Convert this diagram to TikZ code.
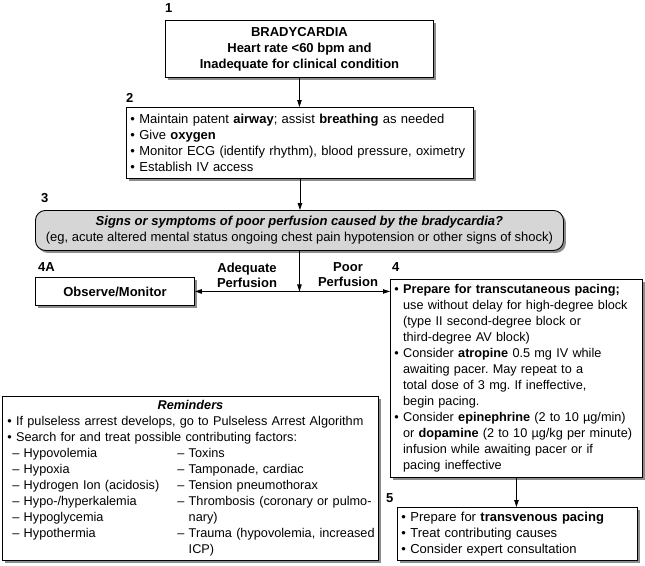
\documentclass[tikz,border=0pt]{standalone}
\usepackage{fontspec}
\setmainfont{Liberation Sans}
\usetikzlibrary{arrows.meta,shadows}
\frenchspacing
\newcommand{\hang}{\hphantom{• }}
\newcommand{\fs}{\fontsize{13}{16}\selectfont}
\newcommand{\fsm}{\fontsize{12.7}{16}\selectfont}
\newcommand{\twocol}[2]{\mbox{\hspace*{5pt}\makebox[165pt][l]{#1}#2}}
\tikzset{
  box/.style={draw,line width=0.9pt,fill=white,anchor=north west,inner sep=0pt,
    drop shadow={shadow xshift=2.5pt,shadow yshift=-2.5pt,fill=black!45,opacity=1},
    font=\fs},
  num/.style={anchor=west,inner sep=0pt,font=\bfseries\fs},
  tag/.style={align=center,inner sep=0pt,font=\bfseries\fontsize{13}{15}\selectfont},
  link/.style={line width=0.9pt,-{Triangle[length=7pt,width=4.5pt]}},
}
\begin{document}
\begin{tikzpicture}[x=1pt,y=-1pt]
\useasboundingbox (0,0) rectangle (645,565);
% step 1
\node[num] (n1) at (165,8) {1};
\node[box,minimum width=268pt,minimum height=57pt,align=center,font=\bfseries\fs] (brady) at (165,20)
  {BRADYCARDIA\\Heart rate <60 bpm and\\Inadequate for clinical condition};
% step 2
\node[num] (n2) at (126,98) {2};
\node[box,minimum height=71pt,text width=339pt,inner xsep=4pt,align=left] (support) at (126,107)
  {• Maintain patent \textbf{airway}; assist \textbf{breathing} as needed\\
   • Give \textbf{oxygen}\\
   • Monitor ECG (identify rhythm), blood pressure, oximetry\\
   • Establish IV access};
% step 3
\node[num] (n3) at (41,198) {3};
\node[box,rounded corners=10pt,fill=black!16,minimum width=528pt,minimum height=40pt,align=center] (perf) at (35,210)
  {\textbf{\textit{Signs or symptoms of poor perfusion caused by the bradycardia?}}\\
   (eg, acute altered mental status ongoing chest pain hypotension or other signs of shock)};
% step 4A
\node[num] (n4a) at (38,267) {4A};
\node[box,minimum width=159pt,minimum height=28pt,font=\bfseries\fs] (observe) at (35,277) {Observe/Monitor};
\node[tag] (adequate) at (247,275) {Adequate\\Perfusion};
\node[tag] (poor) at (348,275) {Poor\\Perfusion};
% step 4
\node[num] (n4) at (392,267) {4};
\node[box,minimum height=198pt,text width=244pt,inner xsep=4pt,align=left,font=\fsm] (pacing) at (390,279)
  {\mbox{• \textbf{Prepare for transcutaneous pacing;}}\\
   \mbox{\hang use without delay for high-degree block}\\
   \hang (type II second-degree block or\\
   \hang third-degree AV block)\\
   • Consider \textbf{atropine} 0.5 mg IV while\\
   \hang awaiting pacer. May repeat to a\\
   \hang total dose of 3 mg. If ineffective,\\
   \hang begin pacing.\\
   \mbox{• Consider \textbf{epinephrine} (2 to 10 µg/min)}\\
   \mbox{\hang or \textbf{dopamine} (2 to 10 µg/kg per minute)}\\
   \hang infusion while awaiting pacer or if\\
   \hang pacing ineffective};
% step 5
\node[num] (n5) at (386,498) {5};
\node[box,minimum height=53pt,text width=232pt,inner xsep=4pt,align=left] (transv) at (397,507)
  {• Prepare for \textbf{transvenous pacing}\\
   • Treat contributing causes\\
   • Consider expert consultation};
% reminders
\node[box,minimum height=164pt,text width=366pt,inner xsep=5pt,align=left,font=\fsm] (remind) at (2,396)
  {\makebox[\linewidth]{\textbf{\textit{Reminders}}}\\
   \mbox{• If pulseless arrest develops, go to Pulseless Arrest Algorithm}\\
   • Search for and treat possible contributing factors:\\
   \twocol{– Hypovolemia}{– Toxins}\\
   \twocol{– Hypoxia}{– Tamponade, cardiac}\\
   \twocol{– Hydrogen Ion (acidosis)}{– Tension pneumothorax}\\
   \twocol{– Hypo-/hyperkalemia}{– Thrombosis (coronary or pulmo-}\\
   \twocol{– Hypoglycemia}{\hphantom{– }nary)}\\
   \twocol{– Hypothermia}{– Trauma (hypovolemia, increased}\\
   \twocol{}{\hphantom{– }ICP)}};
% connectors
\coordinate (split) at (perf.south |- observe.east);
\draw[link] (brady.south) -- (brady.south |- support.north);
\draw[link] (support.south) -- (support.south |- perf.north);
\draw[link] (perf.south) -- (split);
\draw[link] (split) -- (observe.east);
\draw[link] (split) -- (split -| pacing.west);
\draw[link] (pacing.south) -- (pacing.south |- transv.north);
\end{tikzpicture}
\end{document}
